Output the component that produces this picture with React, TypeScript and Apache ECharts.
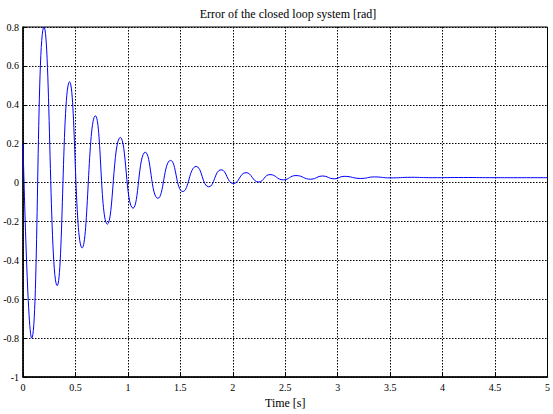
import React, { useEffect, useRef } from "react";
import * as echarts from "echarts";

const timeS = [
  0, 0.083, 0.2, 0.326, 0.444, 0.564, 0.69, 0.805, 0.928, 1.049, 1.166, 1.286, 1.407,
  1.524, 1.651, 1.771, 1.889, 2.006, 2.126, 2.246, 2.355, 2.481, 2.602, 2.744, 2.855,
  2.966, 3.061, 3.22, 3.35, 3.5, 3.7, 3.9, 4.2, 4.5, 4.8, 5,
];
const errorRad = [
  0.2, -0.8, 0.8, -0.53, 0.518, -0.336, 0.343, -0.214, 0.232, -0.132, 0.156, -0.081, 0.114,
  -0.046, 0.083, -0.022, 0.066, -0.005, 0.051, 0.003, 0.041, 0.014, 0.036, 0.017, 0.034,
  0.019, 0.032, 0.021, 0.029, 0.024, 0.027, 0.025, 0.026, 0.025, 0.025, 0.025,
];
const xTicks = [0, 0.5, 1, 1.5, 2, 2.5, 3, 3.5, 4, 4.5, 5];
const yTicks = [-1, -0.8, -0.6, -0.4, -0.2, 0, 0.2, 0.4, 0.6, 0.8];

const titleText = "Error of the closed loop system [rad]";
const xName = "Time [s]";

export default function App() {
  const ref = useRef<HTMLDivElement>(null);
  useEffect(() => {
    if (!ref.current) return;
    const chart = echarts.init(ref.current, null, { renderer: "svg" });
    const font = "'Liberation Serif', 'Times New Roman', serif";
    chart.setOption({
      animation: false,
      backgroundColor: "#ffffff",
      title: {
        text: titleText,
        left: 283,
        top: 3,
        textAlign: "center",
        textStyle: { fontFamily: font, fontSize: 12, fontWeight: "normal", color: "#000" },
      },
      grid: {
        left: 23,
        right: 4,
        top: 27,
        bottom: 33,
        show: true,
        borderColor: "#000",
        borderWidth: 1,
        backgroundColor: "transparent",
      },
      xAxis: {
        type: "value",
        min: xTicks[0],
        max: xTicks[xTicks.length - 1],
        interval: 0.5,
        name: xName,
        nameLocation: "middle",
        nameGap: 20,
        nameTextStyle: { fontFamily: font, fontSize: 12, color: "#000" },
        axisLine: { show: true, onZero: false, lineStyle: { color: "#000", width: 1.5 } },
        axisTick: { show: true, inside: true, length: 4, lineStyle: { color: "#000" } },
        axisLabel: { fontFamily: font, fontSize: 10, color: "#000", margin: 5, showMaxLabel: true, showMinLabel: true },
        splitLine: { show: true, lineStyle: { color: "#000", type: [1.5, 1.5], width: 1 } },
      },
      yAxis: {
        type: "value",
        min: yTicks[0],
        max: yTicks[yTicks.length - 1],
        interval: 0.2,
        axisLine: { show: true, onZero: false, lineStyle: { color: "#000", width: 1.5 } },
        axisTick: { show: true, inside: true, length: 4, lineStyle: { color: "#000" } },
        axisLabel: {
          fontFamily: font,
          fontSize: 10,
          color: "#000",
          margin: 4,
          showMaxLabel: true,
          showMinLabel: true,
          formatter: (v: number) => String(Math.round(v * 10) / 10),
        },
        splitLine: { show: true, lineStyle: { color: "#000", type: [1.5, 1.5], width: 1 } },
      },
      series: [
        {
          type: "line",
          data: timeS.map((t, i) => [t, errorRad[i]]),
          showSymbol: false,
          smooth: 0.5,
          lineStyle: { color: "#0000ff", width: 1 },
        },
      ],
    });
    return () => chart.dispose();
  }, []);
  return (
    <div
      ref={ref}
      style={{ position: "fixed", left: 0, top: 0, width: 553, height: 414 }}
    />
  );
}
